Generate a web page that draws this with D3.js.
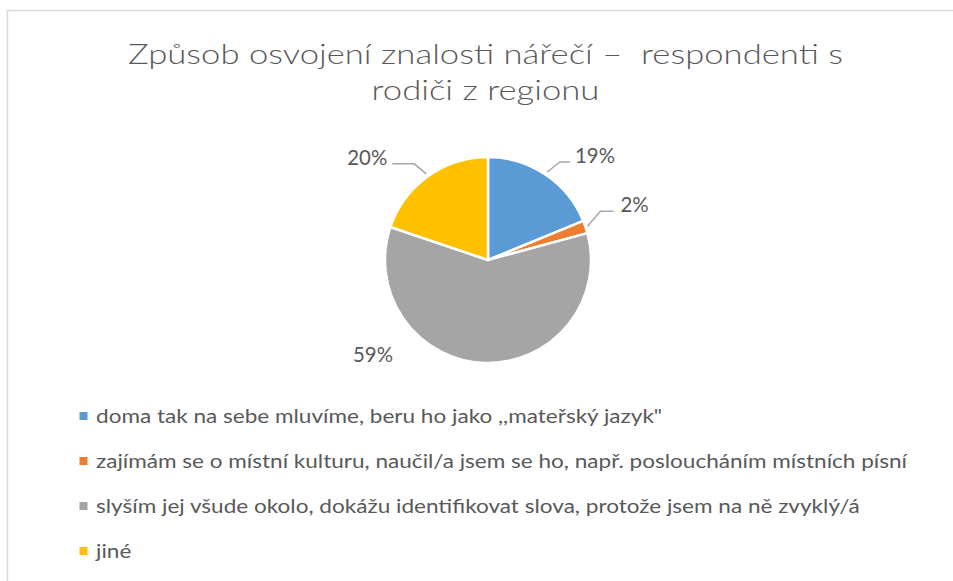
<!DOCTYPE html>
<html lang="cs">
<head>
<meta charset="utf-8">
<title>Způsob osvojení znalosti nářečí</title>
<script src="https://d3js.org/d3.v7.min.js"></script>
<style>
  body { margin: 0; background: #fff; }
  svg { display: block; font-family: Lato, "Open Sans", sans-serif; }
  svg text { white-space: pre; }
</style>
</head>
<body>
<script>
// data (counts)
const categories = [
  "doma tak na sebe mluvíme, beru ho jako ,,mateřský jazyk\"",
  "zajímám se o místní kulturu, naučil/a jsem se ho, např. posloucháním místních písní",
  "slyším jej všude okolo, dokážu identifikovat slova, protože jsem na ně zvyklý/á",
  "jiné"
];
const counts = [19, 2, 60, 20];
const colors = ["#5B9BD5", "#ED7D31", "#A5A5A5", "#FFC000"];
const titleLines = ["Způsob osvojení znalosti nářečí –  respondenti s", "rodiči z regionu"];

const W = 953, H = 581;
const cx = 488, cy = 260, R = 103;
const textColor = "#595959";

const svg = d3.select("body").append("svg")
  .attr("width", W).attr("height", H);

// chart frame (only left and top edges show)
svg.append("rect")
  .attr("x", 7.5).attr("y", 10.5)
  .attr("width", W + 20).attr("height", H + 20)
  .attr("fill", "#fff")
  .attr("stroke", "#D9D9D9")
  .attr("stroke-width", 1.5);

// squeeze a set of texts by the ratio that makes the reference one hit its width
function squeeze(sel, refNode, target) {
  const ratio = target / refNode.getComputedTextLength();
  sel.each(function() {
    const w = this.getComputedTextLength();
    d3.select(this)
      .attr("textLength", w * ratio)
      .attr("lengthAdjust", "spacingAndGlyphs");
  });
}

// title
const title = svg.append("g").selectAll("text")
  .data(titleLines)
  .join("text")
  .attr("x", 485.5)
  .attr("y", (d, i) => 64 + i * 36)
  .attr("text-anchor", "middle")
  .attr("font-size", 27.5).attr("font-weight", 300)
  .attr("fill", textColor)
  .text(d => d);
squeeze(title, title.nodes()[0], 715);

// pie
const total = d3.sum(counts);
const pie = d3.pie().sort(null).value(d => d);
const arcs = pie(counts);
const arc = d3.arc().innerRadius(0).outerRadius(R);

const g = svg.append("g").attr("transform", `translate(${cx},${cy})`);
g.selectAll("path.slice")
  .data(arcs)
  .join("path")
  .attr("class", "slice")
  .attr("d", arc)
  .attr("fill", (d, i) => colors[i])
  .attr("stroke", "#fff")
  .attr("stroke-width", 2.5)
  .attr("stroke-linejoin", "round");

// data labels (leader elbows as offsets from the slice edge)
const labelLayout = [
  { dr: 3, elbow: [13, -10], run: 10, gap: 5 },
  { dr: 2, elbow: [13, -15], run: 13, gap: 7 },
  { dr: null, pos: [-115, 102] },
  { dr: 3, elbow: [-12, -10], run: -22, gap: 5 }
];
const fmt = d => Math.round(d.value / total * 100) + "%";

const lg = svg.append("g").attr("transform", `translate(${cx},${cy})`);
arcs.forEach((d, i) => {
  const L = labelLayout[i];
  const mid = (d.startAngle + d.endAngle) / 2;
  if (L.dr === null) {
    lg.append("text")
      .attr("class", "dlabel")
      .attr("x", L.pos[0]).attr("y", L.pos[1])
      .attr("text-anchor", "middle")
      .attr("fill", textColor)
      .text(fmt(d));
    return;
  }
  const r0 = R + L.dr;
  const p0 = [Math.sin(mid) * r0, -Math.cos(mid) * r0];
  const p1 = [p0[0] + L.elbow[0], p0[1] + L.elbow[1]];
  const p2 = [p1[0] + L.run, p1[1]];
  lg.append("polyline")
    .attr("points", [p0, p1, p2].map(p => p.join(",")).join(" "))
    .attr("fill", "none")
    .attr("stroke", "#A6A6A6")
    .attr("stroke-width", 1.5);
  const right = L.run > 0;
  lg.append("text")
    .attr("class", "dlabel")
    .attr("x", p2[0] + (right ? L.gap : -L.gap))
    .attr("y", p2[1] + 1)
    .attr("text-anchor", right ? "start" : "end")
    .attr("fill", textColor)
    .text(fmt(d));
});
const labels = lg.selectAll("text.dlabel").attr("font-size", 21);
squeeze(labels, labels.nodes()[0], 40);

// legend
const legendY = d3.scalePoint()
  .domain(d3.range(categories.length))
  .range([416, 551]);

const leg = svg.append("g");
const items = leg.selectAll("g")
  .data(categories)
  .join("g")
  .attr("transform", (d, i) => `translate(0,${legendY(i)})`);
items.append("rect")
  .attr("x", 79.5).attr("y", -4)
  .attr("width", 8).attr("height", 8)
  .attr("fill", (d, i) => colors[i]);
const ltext = items.append("text")
  .attr("x", 96).attr("y", 0)
  .attr("dy", "0.36em")
  .attr("font-size", 19.5)
  .attr("fill", textColor)
  .text(d => d);
squeeze(ltext, ltext.nodes()[1], 811);
</script>
</body>
</html>
